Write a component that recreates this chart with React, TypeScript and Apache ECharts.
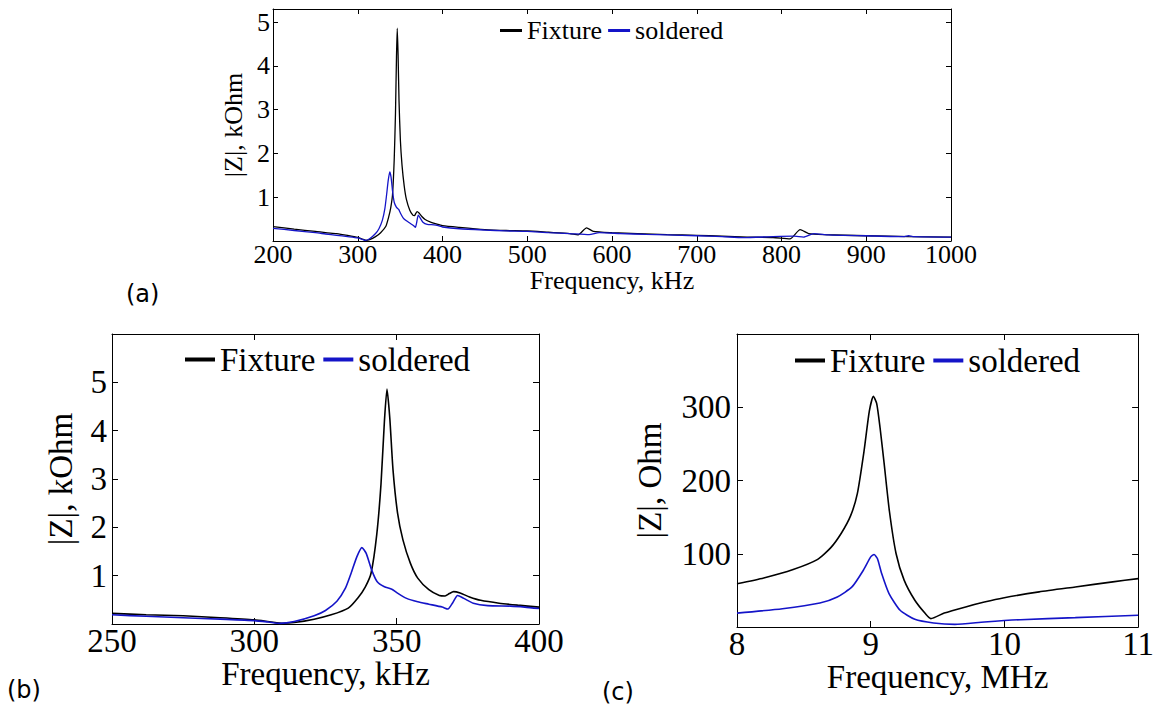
import React, { useEffect, useRef } from "react";
import * as echarts from "echarts";

const SERIF = "Liberation Serif";
const SANS = "DejaVu Sans";
const BLACK = "#000000";
const BLUE = "#1414c8";

const seriesNames = ["Fixture", "soldered"];

// ---- Panel (b) data: 250-400 kHz, |Z| in kOhm (also reused for panel a) ----
const fixtureFreqB = [250, 262, 275, 288, 300, 306, 310, 314, 321, 327, 333, 336.5, 339, 341, 343, 344.5, 345.7, 346.6, 347.6, 348.7, 350.3, 352.2, 354.8, 357.4, 361.3, 365, 367, 368.5, 370, 372.3, 375.6, 379.5, 386, 392.5, 400];
const fixtureZB = [0.22, 0.19, 0.17, 0.13, 0.085, 0.04, 0.015, 0.03, 0.1, 0.19, 0.33, 0.55, 0.77, 1.05, 1.85, 2.9, 4.2, 4.86, 4.25, 3.2, 2.3, 1.74, 1.26, 0.95, 0.71, 0.59, 0.58, 0.63, 0.67, 0.64, 0.56, 0.49, 0.43, 0.39, 0.35];
const solderedFreqB = [250, 262, 275, 288, 300, 305, 309, 314, 321, 325, 329, 332, 334, 336, 337.8, 339.3, 341.2, 343.1, 345.7, 348.3, 350.3, 353.5, 357.4, 361.3, 366, 368, 369.7, 371.4, 373.6, 376.9, 382, 390, 395, 400];
const solderedZB = [0.19, 0.16, 0.13, 0.1, 0.07, 0.04, 0.012, 0.05, 0.17, 0.28, 0.47, 0.74, 1.05, 1.39, 1.58, 1.46, 1.12, 0.88, 0.77, 0.72, 0.64, 0.53, 0.46, 0.41, 0.35, 0.31, 0.44, 0.59, 0.53, 0.43, 0.38, 0.37, 0.35, 0.32];

// ---- Panel (a) extra data outside 250-400 kHz ----
const fixtureFreqALow = [200, 225];
const fixtureZALow = [0.33, 0.27];
const fixtureFreqAHigh = [420, 450, 475, 500, 525, 550, 560, 570, 578, 600, 630, 665, 700, 730, 760, 790, 810, 822, 832, 850, 900, 950, 1000];
const fixtureZAHigh = [0.31, 0.26, 0.24, 0.23, 0.2, 0.17, 0.14, 0.3, 0.22, 0.19, 0.17, 0.145, 0.13, 0.11, 0.09, 0.08, 0.05, 0.26, 0.17, 0.145, 0.12, 0.1, 0.09];
const solderedFreqALow = [200, 225];
const solderedZALow = [0.29, 0.24];
const solderedFreqAHigh = [420, 450, 475, 500, 525, 550, 573, 585, 610, 640, 665, 700, 730, 755, 790, 815, 826, 838, 856, 900, 945, 950, 955, 1000];
const solderedZAHigh = [0.28, 0.25, 0.23, 0.22, 0.19, 0.17, 0.145, 0.19, 0.17, 0.15, 0.14, 0.12, 0.1, 0.076, 0.1, 0.11, 0.09, 0.17, 0.14, 0.12, 0.1, 0.12, 0.1, 0.09];

// ---- Panel (c) data: 8-11 MHz, |Z| in Ohm ----
const fixtureFreqC = [8.0, 8.2, 8.42, 8.6, 8.7, 8.78, 8.85, 8.9, 8.95, 8.99, 9.02, 9.045, 9.07, 9.1, 9.14, 9.19, 9.25, 9.33, 9.41, 9.45, 9.55, 9.71, 9.85, 9.99, 10.26, 10.53, 10.81, 11.0];
const fixtureZC = [59, 67, 78.5, 92, 108, 128, 152, 182, 240, 295, 315, 305, 272, 224, 158, 100, 64, 36.5, 18, 11.5, 19, 27.4, 34, 39.7, 48, 54.7, 61.6, 66];
const solderedFreqC = [8.0, 8.34, 8.62, 8.75, 8.86, 8.945, 9.0, 9.025, 9.05, 9.082, 9.137, 9.22, 9.33, 9.47, 9.63, 9.85, 10.12, 10.53, 11.0];
const solderedZC = [19, 25, 32.8, 41, 54.7, 77.5, 95.8, 99, 93.5, 73, 45.6, 22.8, 10.5, 5.5, 3.6, 6.8, 10, 12.8, 16];

// ---- Axis texts ----
const xNameA = "Frequency, kHz";
const xNameB = "Frequency, kHz";
const xNameC = "Frequency, MHz";
const yNameA = "|Z|, kOhm";
const yNameB = "|Z|, kOhm";
const yNameC = "|Z|, Ohm";
const panelLabels = ["(a)", "(b)", "(c)"];

function zip(xs: number[], ys: number[]) {
  return xs.map((x, i) => [x, ys[i]]);
}

const lineAxis = { show: true, onZero: false, lineStyle: { color: "#000", width: 1 } };

function xAxisCfg(grid: number, min: number, max: number, interval: number, fs: number, name: string, nameGap: number, tickLen: number, top: boolean) {
  return {
    type: "value",
    gridIndex: grid,
    position: top ? "top" : "bottom",
    min,
    max,
    interval,
    axisLine: lineAxis,
    axisTick: { show: true, inside: true, length: tickLen, lineStyle: { color: "#000", width: 1 } },
    axisLabel: top
      ? { show: false }
      : { show: true, margin: 0, fontSize: fs, fontFamily: SERIF, color: "#000", formatter: (v: number) => String(v) },
    splitLine: { show: false },
    name: top ? "" : name,
    nameLocation: "middle",
    nameGap,
    nameTextStyle: { fontSize: fs, fontFamily: SERIF, color: "#000" },
  };
}

function yAxisCfg(grid: number, min: number, max: number, interval: number, fs: number, name: string, nameGap: number, tickLen: number, margin: number, right: boolean) {
  return {
    type: "value",
    gridIndex: grid,
    position: right ? "right" : "left",
    min,
    max,
    interval,
    axisLine: lineAxis,
    axisTick: { show: true, inside: true, length: tickLen, lineStyle: { color: "#000", width: 1 } },
    axisLabel: right
      ? { show: false }
      : { show: true, margin, fontSize: fs, fontFamily: SERIF, color: "#000", showMinLabel: false, showMaxLabel: false, formatter: (v: number) => String(v) },
    splitLine: { show: false },
    name: right ? "" : name,
    nameLocation: "middle",
    nameGap,
    nameRotate: 90,
    nameTextStyle: { fontSize: fs, fontFamily: SERIF, color: "#000" },
  };
}

function legendCfg(left: number, top: number, fs: number, iw: number, ih: number, gap: number) {
  return {
    left,
    top,
    orient: "horizontal",
    icon: "rect",
    itemWidth: iw,
    itemHeight: ih,
    itemGap: gap,
    selectedMode: false,
    padding: 0,
    data: seriesNames,
    textStyle: { fontSize: fs, fontFamily: SERIF, color: "#000", lineHeight: fs },
  };
}

function lineSeries(name: string, color: string, xi: number, data: number[][], width: number) {
  return {
    type: "line",
    name,
    xAxisIndex: xi,
    yAxisIndex: xi,
    data,
    showSymbol: false,
    symbol: "none",
    smooth: 0.2,
    lineStyle: { color, width },
    itemStyle: { color },
    emphasis: { disabled: true },
  };
}

export default function App() {
  const ref = useRef<HTMLDivElement>(null);

  useEffect(() => {
    document.body.style.margin = "0";
    const chart = echarts.init(ref.current!, null, { renderer: "svg" });

    const fixtureA = [
      ...zip(fixtureFreqALow, fixtureZALow),
      ...zip(fixtureFreqB, fixtureZB),
      ...zip(fixtureFreqAHigh, fixtureZAHigh),
    ];
    const solderedA = [
      ...zip(solderedFreqALow, solderedZALow),
      ...zip(solderedFreqB, solderedZB),
      ...zip(solderedFreqAHigh, solderedZAHigh),
    ];

    const option = {
      animation: false,
      backgroundColor: "#ffffff",
      grid: [
        { left: 273, top: 9, width: 678, height: 232, show: false },
        { left: 112, top: 334, width: 427, height: 290, show: false },
        { left: 737, top: 334, width: 402, height: 293, show: false },
      ],
      xAxis: [
        xAxisCfg(0, 200, 1000, 100, 26, xNameA, 25, 5, false),
        xAxisCfg(1, 250, 400, 50, 33, xNameB, 31, 6, false),
        xAxisCfg(2, 8, 11, 1, 33, xNameC, 30, 6, false),
        xAxisCfg(0, 200, 1000, 100, 26, "", 0, 5, true),
        xAxisCfg(1, 250, 400, 50, 33, "", 0, 6, true),
        xAxisCfg(2, 8, 11, 1, 33, "", 0, 6, true),
      ],
      yAxis: [
        yAxisCfg(0, 0, 5.3, 1, 26, yNameA, 25, 5, 3, false),
        yAxisCfg(1, 0, 6, 1, 33, yNameB, 35, 6, 5, false),
        yAxisCfg(2, 0, 400, 100, 33, yNameC, 71, 6, 6, false),
        yAxisCfg(0, 0, 5.3, 1, 26, "", 0, 5, 3, true),
        yAxisCfg(1, 0, 6, 1, 33, "", 0, 6, 5, true),
        yAxisCfg(2, 0, 400, 100, 33, "", 0, 6, 6, true),
      ],
      legend: [
        legendCfg(500, 17.5, 26, 22, 3, 6),
        legendCfg(185, 343, 33, 30, 4, 8),
        legendCfg(795, 344, 33, 30, 4, 8),
      ],
      series: [
        lineSeries(seriesNames[0], BLACK, 0, fixtureA, 1.3),
        lineSeries(seriesNames[1], BLUE, 0, solderedA, 1.3),
        lineSeries(seriesNames[0], BLACK, 1, zip(fixtureFreqB, fixtureZB), 1.6),
        lineSeries(seriesNames[1], BLUE, 1, zip(solderedFreqB, solderedZB), 1.6),
        lineSeries(seriesNames[0], BLACK, 2, zip(fixtureFreqC, fixtureZC), 1.6),
        lineSeries(seriesNames[1], BLUE, 2, zip(solderedFreqC, solderedZC), 1.6),
      ],
      graphic: [
        { type: "text", x: 126, y: 293.5, style: { text: panelLabels[0], fontSize: 24, fontFamily: SANS, fill: "#000", verticalAlign: "middle" } },
        { type: "text", x: 7, y: 690, style: { text: panelLabels[1], fontSize: 24, fontFamily: SANS, fill: "#000", verticalAlign: "middle" } },
        { type: "text", x: 602, y: 692, style: { text: panelLabels[2], fontSize: 24, fontFamily: SANS, fill: "#000", verticalAlign: "middle" } },
      ],
    };

    chart.setOption(option as any);
    return () => chart.dispose();
  }, []);

  return <div ref={ref} style={{ width: 1157, height: 711 }} />;
}
